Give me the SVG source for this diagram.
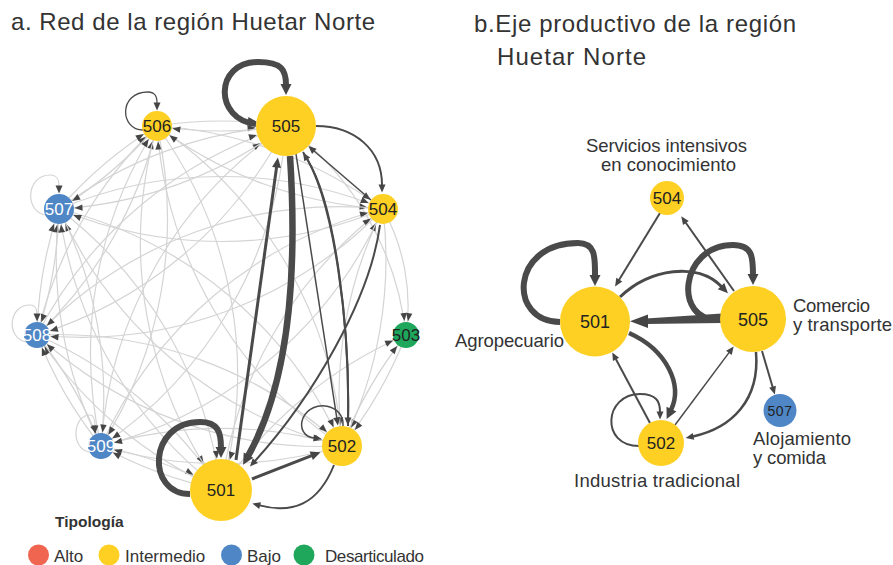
<svg xmlns="http://www.w3.org/2000/svg" width="893" height="565" viewBox="0 0 893 565">
<style>
text{font-family:"Liberation Sans",Arial,sans-serif;}
.title{font-size:24px;fill:#333;}
.lbl{font-size:18.5px;fill:#333;}
.nl{font-size:17px;fill:#222;text-anchor:middle;}
.nw{font-size:17px;fill:#fff;text-anchor:middle;}
.le{fill:none;stroke:#d4d4d4;stroke-width:1.2;}
.de{fill:none;stroke:#4a4a4a;}
.ah{fill:#454545;}
.y{fill:#FDD023;}
.b{fill:#4F86C6;}
.g{fill:#1FA85C;}
.r{fill:#EF6550;}
.leg{font-size:17px;fill:#333;}
</style>
<defs>
<marker id="tA" markerUnits="userSpaceOnUse" markerWidth="12" markerHeight="10" refX="41.5" refY="5" orient="auto" overflow="visible"><path class="ah" d="M10,5 L2,1.8 L2,8.2 Z"/></marker>
<marker id="tB" markerUnits="userSpaceOnUse" markerWidth="12" markerHeight="10" refX="30.5" refY="5" orient="auto" overflow="visible"><path class="ah" d="M10,5 L2,1.8 L2,8.2 Z"/></marker>
<marker id="tC" markerUnits="userSpaceOnUse" markerWidth="12" markerHeight="10" refX="24" refY="5" orient="auto" overflow="visible"><path class="ah" d="M10,5 L2,1.8 L2,8.2 Z"/></marker>
<marker id="tD" markerUnits="userSpaceOnUse" markerWidth="12" markerHeight="10" refX="25.5" refY="5" orient="auto" overflow="visible"><path class="ah" d="M10,5 L2,1.8 L2,8.2 Z"/></marker>
<marker id="tE" markerUnits="userSpaceOnUse" markerWidth="12" markerHeight="10" refX="40.5" refY="5" orient="auto" overflow="visible"><path class="ah" d="M10,5 L2,1.8 L2,8.2 Z"/></marker>
<marker id="tH" markerUnits="userSpaceOnUse" markerWidth="12" markerHeight="10" refX="23.5" refY="5" orient="auto" overflow="visible"><path class="ah" d="M10,5 L2,1.8 L2,8.2 Z"/></marker>
<marker id="ah" markerUnits="userSpaceOnUse" markerWidth="9" markerHeight="10" refX="0.5" refY="5" orient="auto" overflow="visible"><path class="ah" d="M0,1.5 L8,5 L0,8.5 Z"/></marker>
<marker id="ahM" markerUnits="userSpaceOnUse" markerWidth="11" markerHeight="10" refX="0.5" refY="5" orient="auto" overflow="visible"><path class="ah" d="M0,0.5 L10,5 L0,9.5 Z"/></marker>
<marker id="ahL" markerUnits="userSpaceOnUse" markerWidth="12" markerHeight="12" refX="1" refY="6" orient="auto" overflow="visible"><path class="ah" d="M0,0.5 L11,6 L0,11.5 Z"/></marker>
</defs>

<text class="title" x="11" y="30" textLength="364" lengthAdjust="spacing">a. Red de la región Huetar Norte</text>
<text class="title" x="474" y="32" textLength="322" lengthAdjust="spacing">b.Eje productivo de la región</text>
<text class="title" x="497" y="65" textLength="149" lengthAdjust="spacing">Huetar Norte</text>

<g id="connectors-a">
<g class="le" marker-end="url(#tA)">
<path d="M157 126A420 420 0 0 1 221 490"/>
<path d="M59 209A420 420 0 0 1 221 490"/>
<path d="M37 335A420 420 0 0 1 221 490"/>
<path d="M101 446A420 420 0 0 1 221 490"/>
</g>
<g class="le" marker-end="url(#tB)">
<path d="M406 335A420 420 0 0 1 342 446"/>
<path d="M383 209A420 420 0 0 1 342 446"/>
<path d="M157 126A420 420 0 0 1 342 446"/>
<path d="M59 209A420 420 0 0 1 342 446"/>
<path d="M37 335A420 420 0 0 1 342 446"/>
<path d="M101 446A420 420 0 0 1 342 446"/>
</g>
<g class="le" marker-end="url(#tC)">
<path d="M221 490A420 420 0 0 1 406 335"/>
<path d="M342 446A420 420 0 0 1 406 335"/>
<path d="M383 209A200 200 0 0 1 406 335"/>
<path d="M286 126A300 300 0 0 1 406 335"/>
</g>
<g class="le" marker-end="url(#tD)">
<path d="M221 490A420 420 0 0 1 383 209"/>
<path d="M342 446A420 420 0 0 1 383 209"/>
<path d="M157 126A420 420 0 0 1 383 209"/>
<path d="M59 209A420 420 0 0 1 383 209"/>
<path d="M37 335A420 420 0 0 1 383 209"/>
<path d="M101 446A420 420 0 0 1 383 209"/>
</g>
<g class="le" marker-end="url(#tE)">
<path d="M157 126A420 420 0 0 1 286 126"/>
<path d="M59 209A420 420 0 0 1 286 126"/>
<path d="M37 335A420 420 0 0 1 286 126"/>
<path d="M101 446A420 420 0 0 1 286 126"/>
</g>
<g class="le" marker-end="url(#tD)">
<path d="M221 490A420 420 0 0 1 157 126"/>
<path d="M342 446A420 420 0 0 1 157 126"/>
<path d="M383 209A420 420 0 0 1 157 126"/>
<path d="M286 126A420 420 0 0 1 157 126"/>
<path d="M59 209A420 420 0 0 1 157 126"/>
<path d="M37 335A420 420 0 0 1 157 126"/>
<path d="M101 446A420 420 0 0 1 157 126"/>
</g>
<g class="le" marker-end="url(#tD)">
<path d="M221 490A420 420 0 0 1 59 209"/>
<path d="M342 446A420 420 0 0 1 59 209"/>
<path d="M383 209A420 420 0 0 1 59 209"/>
<path d="M286 126A420 420 0 0 1 59 209"/>
<path d="M157 126A420 420 0 0 1 59 209"/>
<path d="M37 335A420 420 0 0 1 59 209"/>
<path d="M101 446A420 420 0 0 1 59 209"/>
</g>
<g class="le" marker-end="url(#tH)">
<path d="M221 490A420 420 0 0 1 37 335"/>
<path d="M342 446A420 420 0 0 1 37 335"/>
<path d="M383 209A420 420 0 0 1 37 335"/>
<path d="M286 126A420 420 0 0 1 37 335"/>
<path d="M157 126A420 420 0 0 1 37 335"/>
<path d="M59 209A420 420 0 0 1 37 335"/>
<path d="M101 446A420 420 0 0 1 37 335"/>
</g>
<g class="le" marker-end="url(#tH)">
<path d="M221 490A420 420 0 0 1 101 446"/>
<path d="M342 446A420 420 0 0 1 101 446"/>
<path d="M383 209A420 420 0 0 1 101 446"/>
<path d="M286 126A420 420 0 0 1 101 446"/>
<path d="M157 126A420 420 0 0 1 101 446"/>
<path d="M59 209A420 420 0 0 1 101 446"/>
<path d="M37 335A420 420 0 0 1 101 446"/>
</g>
<g class="le" marker-end="url(#ah)">
<path d="M46 215C24 212 26 175 50 175C57 175 59 179 59 186"/>
<path d="M26 342C6 338 8 305 30 305C35 305 37 308 37 314"/>
<path d="M89 452C70 448 73 415 90 415C94 415 95 420 95 426"/>
</g>
<g class="de" marker-end="url(#ah)">
<path stroke-width="2" d="M348 426C350 330 336 205 307 159"/>
<path stroke-width="2" d="M303 152C335 200 350 330 348 418"/>
<path stroke-width="1.5" d="M296 154L336.8 418"/>
<path stroke-width="2" d="M316 126C355 126 382 150 382 185"/>
<path stroke-width="1.5" d="M371 200L314 151"/>
<path stroke-width="2" d="M380 225C370 300 312 398 255 461"/>
<path stroke-width="2" d="M334 465C318 505 292 514 259.6 505.4"/>
<path stroke-width="1.5" d="M343 426C345 404 312 398 303 418C299 428 304 437 314 438"/>
<path stroke-width="1.3" d="M143 130C120 130 118 92 148 92C155 92 157 96 157 103"/>
</g>
<g class="de" marker-end="url(#ahM)">
<path stroke-width="3" d="M236 460L276.6 167"/>
<path stroke-width="3" d="M252 479L311.7 455.6"/>
</g>
<g class="de" marker-end="url(#ahL)">
<path stroke-width="6" d="M256 124C214 120 214 62 258 62C282 62 286 70 286 85"/>
<path stroke-width="6" d="M190 494C146 494 148 422 200 422C218 422 221 432 221 448"/>
<path stroke-width="6.5" d="M290 156C298 280 288 385 248 456"/>
</g>
</g>

<g id="n501"><circle class="y" cx="221" cy="490" r="31"/><text class="nl" x="221" y="496">501</text></g>
<g id="n502"><circle class="y" cx="342" cy="446" r="20"/><text class="nl" x="342" y="452">502</text></g>
<g id="n503"><circle class="g" cx="406" cy="335" r="13"/><text class="nl" x="406" y="341">503</text></g>
<g id="n504"><circle class="y" cx="383" cy="209" r="15"/><text class="nl" x="383" y="215">504</text></g>
<g id="n505"><circle class="y" cx="286" cy="126" r="30"/><text class="nl" x="286" y="132">505</text></g>
<g id="n506"><circle class="y" cx="157" cy="126" r="15"/><text class="nl" x="157" y="132">506</text></g>
<g id="n507"><circle class="b" cx="59" cy="209" r="15"/><text class="nw" x="59" y="215">507</text></g>
<g id="n508"><circle class="b" cx="37" cy="335" r="13"/><text class="nw" x="37" y="341">508</text></g>
<g id="n509"><circle class="b" cx="101" cy="446" r="13"/><text class="nw" x="101" y="452">509</text></g>

<g id="legend">
<text x="55" y="527" style="font-size:15.5px;font-weight:bold;fill:#333">Tipología</text>
<circle class="r" cx="38.5" cy="555" r="10.5"/><text class="leg" x="54" y="561.5">Alto</text>
<circle class="y" cx="109" cy="555" r="10.5"/><text class="leg" x="125" y="561.5">Intermedio</text>
<circle class="b" cx="231.5" cy="555" r="10.5"/><text class="leg" x="247" y="561.5">Bajo</text>
<circle class="g" cx="304" cy="555" r="10.5"/><text class="leg" x="325" y="561.5" textLength="99" lengthAdjust="spacing">Desarticulado</text>
</g>

<g id="connectors-b">
<g class="de" marker-end="url(#ah)">
<path stroke-width="2" d="M660 213L619 280"/>
<path stroke-width="2" d="M734 291L685.6 222.5"/>
<path stroke-width="2" d="M650 423L615.8 359"/>
<path stroke-width="2" d="M639 446C600 446 604 394 640 394C657 394 660 402 660 412"/>
<path stroke-width="1.5" d="M675 425L729.2 352.4"/>
<path stroke-width="2.5" d="M756 352C760 400 732 428 693 436.5"/>
<path stroke-width="2" d="M762 351L772.7 387.3"/>
</g>
<g class="de" marker-end="url(#ahM)">
<path stroke-width="3" d="M620 297C650 268 698 262 721.4 286.5"/>
</g>
<g class="de" marker-end="url(#ahL)">
<path stroke-width="6" d="M560 322C508 322 510 243 578 243C596 243 595 258 595 276"/>
<path stroke-width="6" d="M720 320C672 322 680 245 733 245C753 245 753 258 753 275"/>
<path stroke-width="4.5" d="M629 333C667 350 683 385 671 410"/>
</g>
<path fill="#4a4a4a" d="M722 313.5L722 323L646 324L646 318.5Z"/>
<path class="ah" d="M648 314.5L630 321.2L648 328Z"/>
</g>

<g id="b504"><circle class="y" cx="667" cy="198" r="17"/><text class="nl" x="667" y="204">504</text></g>
<g id="b501"><circle class="y" cx="595" cy="321.5" r="35"/><text class="nl" x="595" y="328" style="font-size:18px">501</text></g>
<g id="b505"><circle class="y" cx="753" cy="319" r="33"/><text class="nl" x="753" y="325.5" style="font-size:18px">505</text></g>
<g id="b502"><circle class="y" cx="661" cy="443" r="23"/><text class="nl" x="661" y="449">502</text></g>
<g id="b507"><circle class="b" cx="780" cy="410.5" r="16.5"/><text class="nl" x="780" y="415.5" style="font-size:14px;letter-spacing:0.5px">507</text></g>

<g id="labels-b">
<text class="lbl" x="586" y="151.5" textLength="161" lengthAdjust="spacing">Servicios intensivos</text>
<text class="lbl" x="601" y="170.5" textLength="135" lengthAdjust="spacing">en conocimiento</text>
<text class="lbl" x="455" y="347" textLength="109" lengthAdjust="spacing">Agropecuario</text>
<text class="lbl" x="793" y="311.5" textLength="77" lengthAdjust="spacing">Comercio</text>
<text class="lbl" x="793" y="331" textLength="99" lengthAdjust="spacing">y transporte</text>
<text class="lbl" x="753" y="444.5" textLength="98" lengthAdjust="spacing">Alojamiento</text>
<text class="lbl" x="753" y="464" textLength="73" lengthAdjust="spacing">y comida</text>
<text class="lbl" x="574" y="487" textLength="166" lengthAdjust="spacing">Industria tradicional</text>
</g>
</svg>
